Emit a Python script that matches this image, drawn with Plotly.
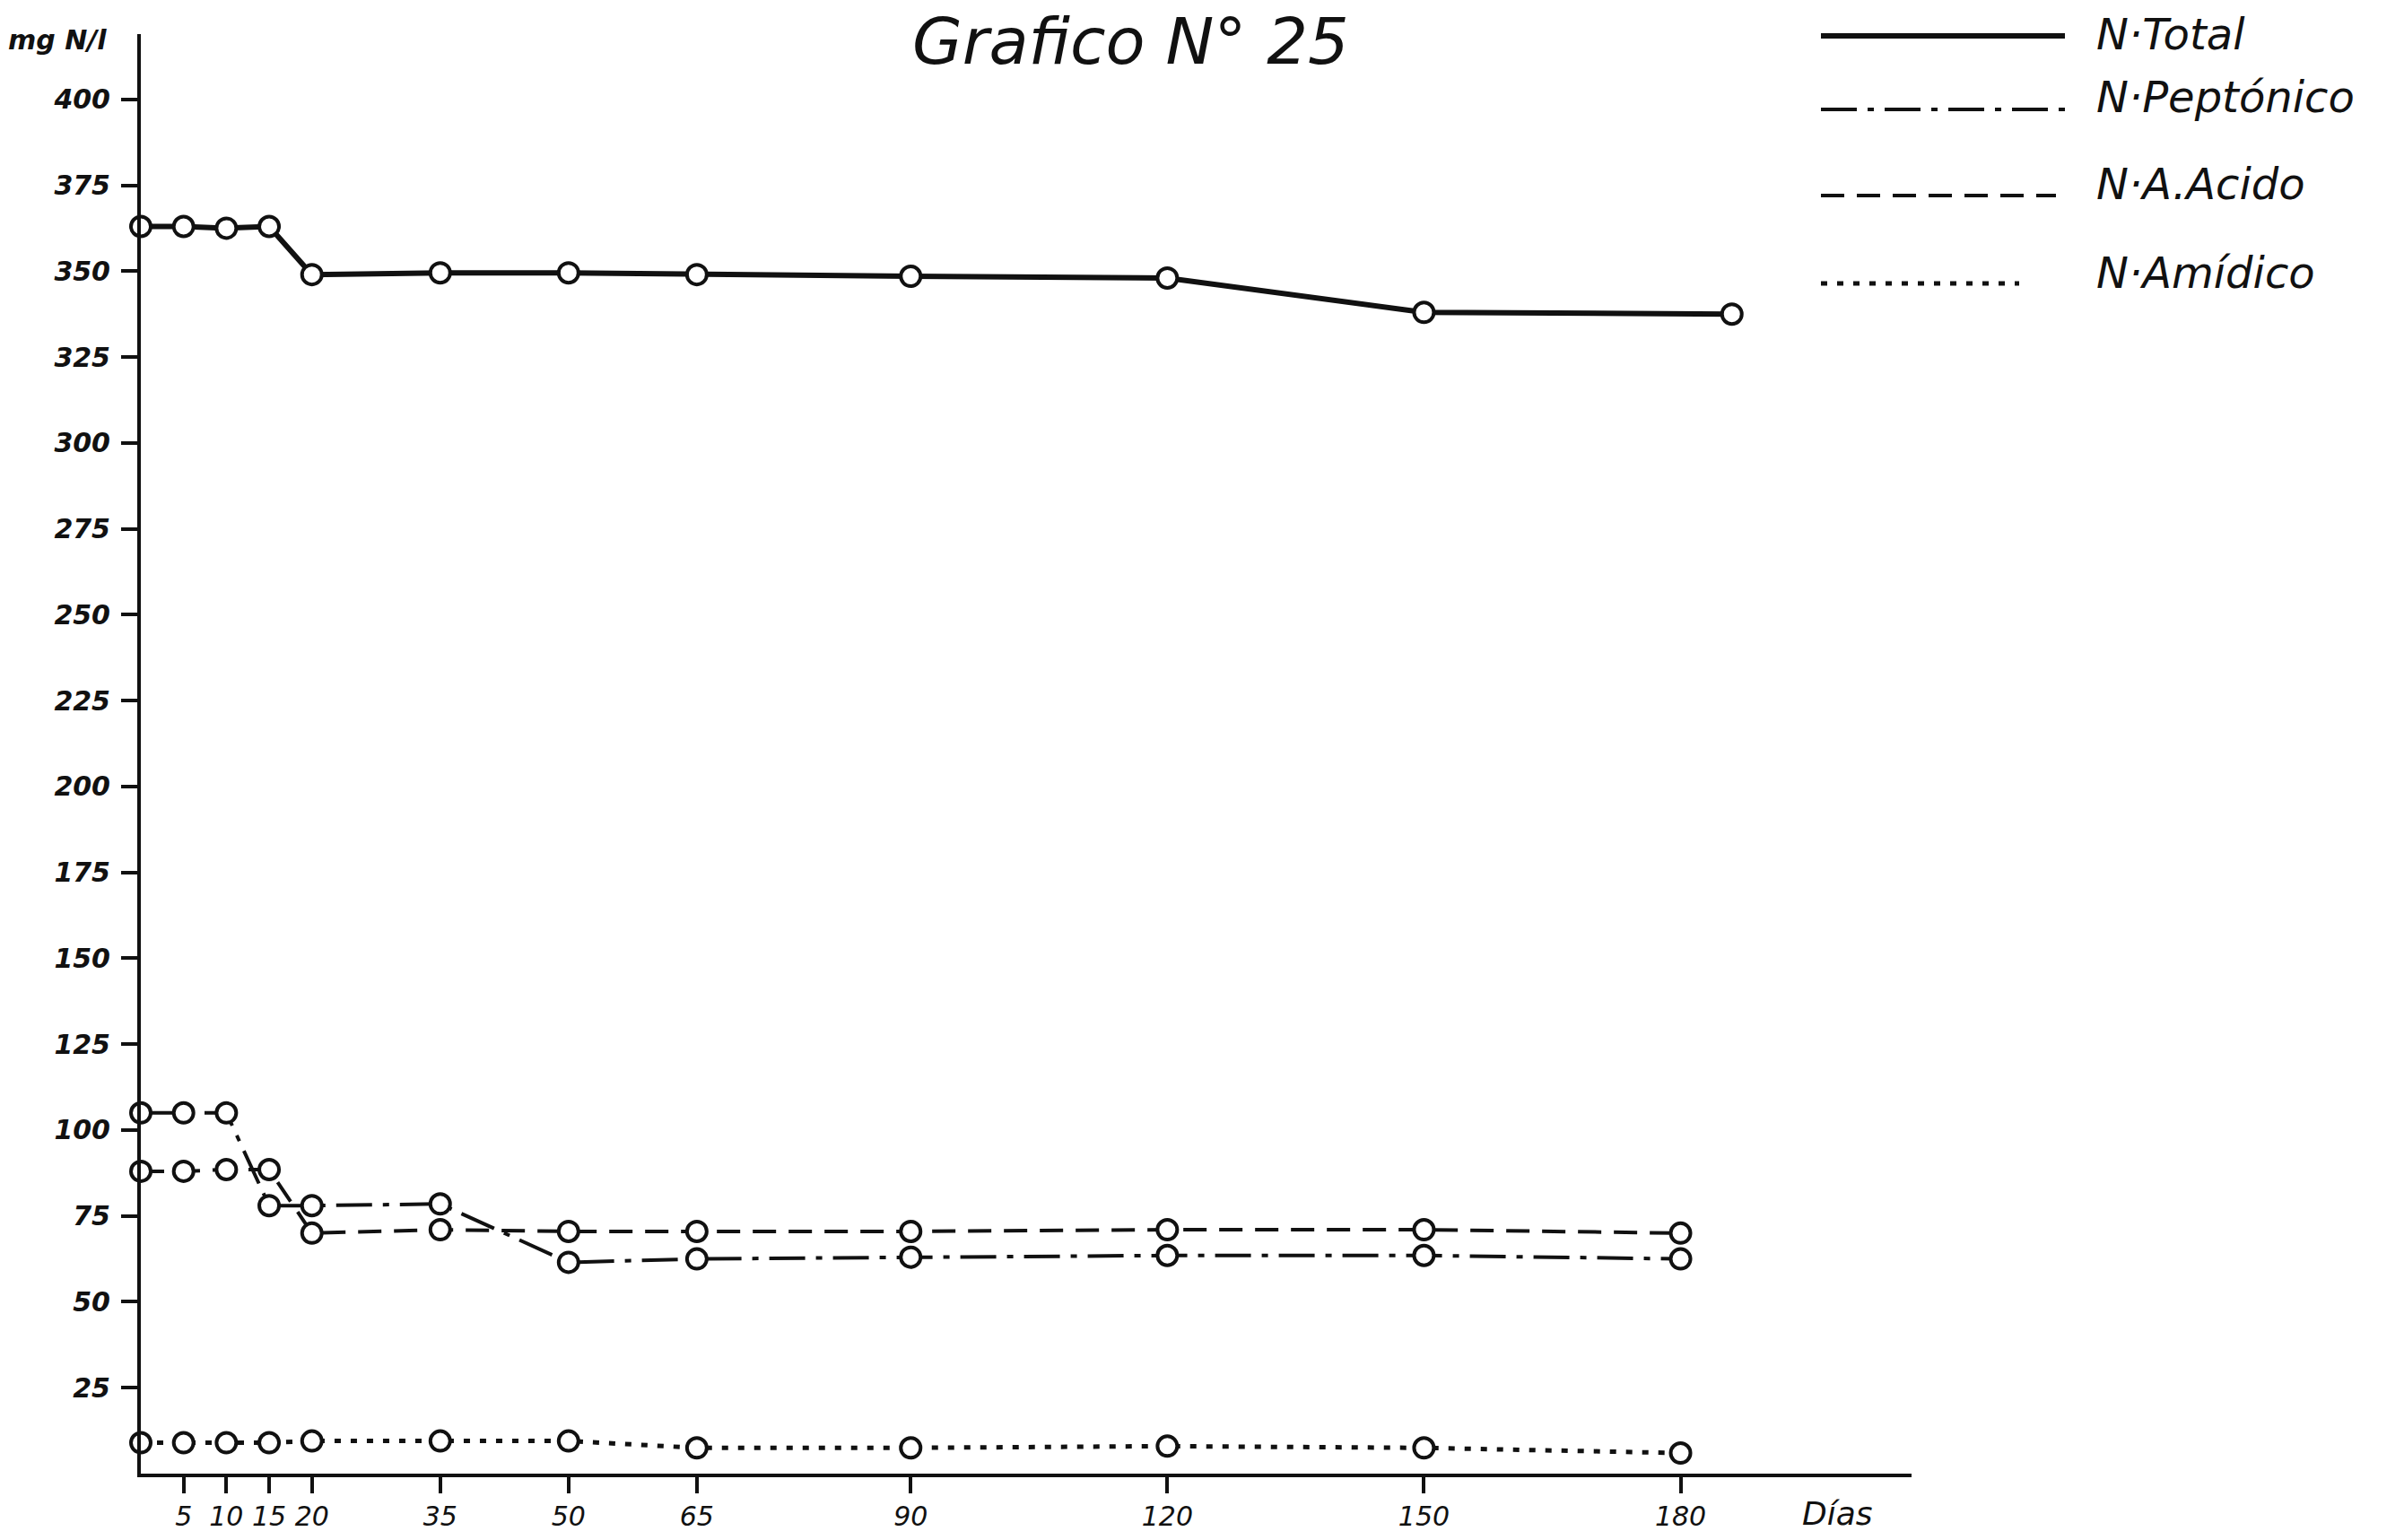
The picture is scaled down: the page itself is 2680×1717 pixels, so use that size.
import plotly.graph_objects as go

# Días de muestreo
dias = [0, 5, 10, 15, 20, 35, 50, 65, 90, 120, 150, 180]
dias_total = [0, 5, 10, 15, 20, 35, 50, 65, 90, 120, 150, 186]

# Nitrógeno (mg N/l)
n_total = [363, 363, 362.5, 363, 349, 349.5, 349.5, 349, 348.5, 348, 338, 337.5]
n_peptonico = [105, 105, 105, 78, 78, 78.5, 61.5, 62.5, 63, 63.5, 63.5, 62.5]
n_acido = [88, 88, 88.5, 88.5, 70, 71, 70.5, 70.5, 70.5, 71, 71, 70]
n_amidico = [9, 9, 9, 9, 9.5, 9.5, 9.5, 7.5, 7.5, 8, 7.5, 6]

nombres = ["N·Total", "N·Peptónico", "N·A.Acido", "N·Amídico"]

x_ticks = [5, 10, 15, 20, 35, 50, 65, 90, 120, 150, 180]
x_labels = [str(v) for v in x_ticks]
y_ticks = list(range(25, 401, 25))
y_labels = [str(v) for v in y_ticks]

INK = "#111111"
FONT = "DejaVu Sans"

W, H = 2680, 1717
L, R, T, B = 157, 549, 38, 74
X_MAX, Y_MAX = 207, 419
PW, PH = W - L - R, H - T - B


def px(xp):
    return (xp - L) / PW


def py(yp):
    return (H - B - yp) / PH


estilos = [
    dict(width=6, dash="solid"),
    dict(width=4, dash="40px,12px,7px,12px"),
    dict(width=4, dash="26px,14px"),
    dict(width=5, dash="7px,11px"),
]

fig = go.Figure()
for xs, ys, est in zip([dias_total, dias, dias, dias],
                       [n_total, n_peptonico, n_acido, n_amidico], estilos):
    fig.add_trace(go.Scatter(
        x=xs, y=ys, mode="lines+markers",
        line=dict(color=INK, width=est["width"], dash=est["dash"]),
        marker=dict(symbol="circle", size=22, color="white",
                    line=dict(color=INK, width=4)),
        cliponaxis=False, showlegend=False, hoverinfo="skip",
    ))

# Leyenda dibujada a mano: muestra de línea + rótulo
leyenda_linea = [40, 122, 218, 316]
leyenda_texto = [38, 108, 205, 304]
leyenda_fin = [2302, 2302, 2292, 2251]
shapes = []
annotations = []
for nombre, est, yl, yt, xf in zip(nombres, estilos, leyenda_linea, leyenda_texto, leyenda_fin):
    shapes.append(dict(type="line", xref="paper", yref="paper",
                       x0=px(2030), x1=px(xf), y0=py(yl), y1=py(yl),
                       line=dict(color=INK, width=est["width"], dash=est["dash"])))
    annotations.append(dict(text=nombre, xref="paper", yref="paper",
                            x=px(2335), y=py(yt), xanchor="left", yanchor="middle",
                            showarrow=False,
                            font=dict(family=FONT, size=48, color=INK, style="italic")))

annotations += [
    dict(text="Grafico N° 25", xref="paper", yref="paper", x=px(1260), y=1.0,
         xanchor="center", yanchor="top", yshift=36, showarrow=False,
         font=dict(family=FONT, size=72, color=INK, style="italic")),
    dict(text="mg N/l", xref="paper", yref="paper", x=px(64), y=py(45),
         xanchor="center", yanchor="middle", showarrow=False,
         font=dict(family=FONT, size=30, color=INK, style="italic", weight="bold")),
    dict(text="Días", xref="paper", yref="paper", x=px(2048), y=py(1688),
         xanchor="center", yanchor="middle", showarrow=False,
         font=dict(family=FONT, size=36, color=INK, style="italic")),
]

fig.update_layout(
    width=W, height=H,
    margin=dict(l=L, r=R, t=T, b=B, pad=0, autoexpand=False),
    paper_bgcolor="white", plot_bgcolor="white",
    shapes=shapes, annotations=annotations,
    xaxis=dict(range=[0, X_MAX], showline=True, linewidth=4, linecolor=INK,
               ticks="outside", tickvals=x_ticks, ticktext=x_labels,
               ticklen=18, tickwidth=4, tickcolor=INK, automargin=False,
               showgrid=False, zeroline=False,
               tickfont=dict(family=FONT, size=30, color=INK, style="italic")),
    yaxis=dict(range=[0, Y_MAX], showline=True, linewidth=4, linecolor=INK,
               ticks="outside", tickvals=y_ticks, ticktext=y_labels,
               ticklen=18, tickwidth=4, tickcolor=INK, automargin=False,
               ticklabelstandoff=6,
               showgrid=False, zeroline=False,
               tickfont=dict(family=FONT, size=30, color=INK, style="italic", weight="bold")),
)

fig.write_html("out.html")
